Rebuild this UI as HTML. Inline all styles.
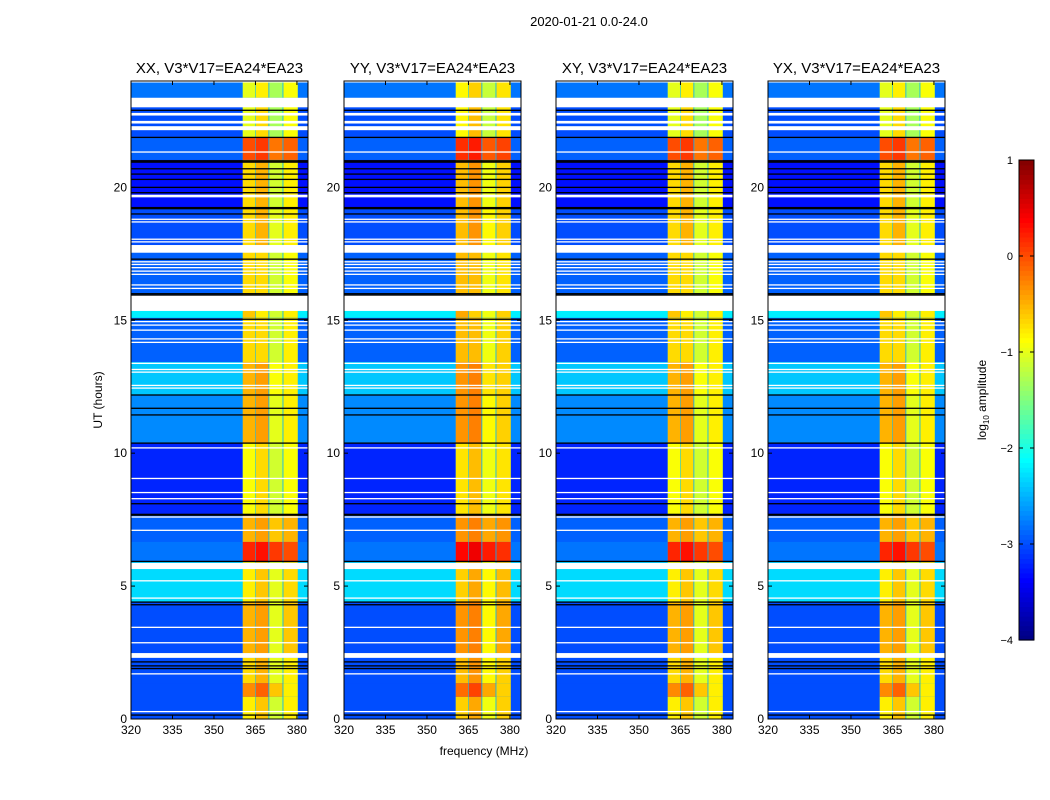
<!DOCTYPE html>
<html><head><meta charset="utf-8"><style>
body{margin:0;background:#fff;font-family:"Liberation Sans",sans-serif}
svg{display:block}
</style></head><body>
<svg id="fig" width="1050" height="800" xmlns="http://www.w3.org/2000/svg">
<text x="589" y="26" font-size="13" text-anchor="middle">2020-01-21 0.0-24.0</text>
<text x="484" y="755" font-size="12" text-anchor="middle">frequency (MHz)</text>
<text transform="translate(102,400) rotate(-90)" font-size="12" text-anchor="middle">UT (hours)</text>
<g id="panels"></g>
<g id="cbar"></g>
<text transform="translate(986,400) rotate(-90)" font-size="12" text-anchor="middle">log<tspan font-size="8" dy="3">10</tspan><tspan dy="-3"> amplitude</tspan></text>
</svg>
<script>
const panelTitles = ["XX, V3*V17=EA24*EA23","YY, V3*V17=EA24*EA23","XY, V3*V17=EA24*EA23","YX, V3*V17=EA24*EA23"];
const panelLeft = [131,344,556,768];
const panelBandOffset = [0,0.15,0,0];
const xTicks = [320,335,350,365,380];
const yTicks = [0,5,10,15,20];
const cbTicks = [1,0,-1,-2,-3,-4];
// sub-band edges (MHz)
const subBands = [[360.4,365.0],[365.2,369.7],[370.0,374.8],[375.1,380.3]];
// segments: [lo hour, hi hour, background level, band1..band4 levels]
const segments = [
[23.37,24.0,-2.8,-1.0,-0.8,-1.3,-0.9],
[21.88,23.37,-3.0,-1.0,-0.7,-1.3,-0.9],
[21.03,21.88,-2.9,0.0,0.1,-0.2,-0.1],
[19.22,21.03,-3.3,-0.7,-0.5,-1.1,-0.8],
[17.83,19.22,-3.0,-0.7,-0.5,-1.0,-0.8],
[15.95,17.83,-2.9,-0.7,-0.7,-1.1,-0.9],
[15.09,15.95,-2.2,-0.6,-0.8,-1.1,-0.8],
[13.43,15.09,-2.9,-0.7,-0.7,-1.1,-0.8],
[12.19,13.43,-2.4,-0.5,-0.4,-0.9,-0.8],
[10.38,12.19,-2.7,-0.5,-0.4,-1.0,-0.8],
[7.67,10.38,-3.2,-0.9,-0.7,-1.1,-0.9],
[6.66,7.67,-2.9,-0.5,-0.4,-0.6,-0.5],
[5.9,6.66,-2.8,0.2,0.3,0.1,0.0],
[4.4,5.9,-2.3,-0.8,-0.6,-1.0,-0.7],
[2.3,4.4,-3.0,-0.5,-0.4,-1.0,-0.6],
[1.35,2.3,-3.0,-0.7,-0.5,-1.0,-0.8],
[0.83,1.35,-3.0,-0.3,-0.1,-0.6,-0.8],
[0.0,0.83,-3.0,-0.8,-0.6,-1.1,-0.8]
];
const flagBlocks = [[23.01,23.37],[22.7,22.8],[22.4,22.5],[22.15,22.3],[17.54,17.83],[15.35,15.95],[5.64,5.87],[2.3,2.48]];
const whiteLines = [23.97,21.33,19.7,19.65,18.8,18.7,18.05,17.95,17.2,17.1,16.98,16.85,16.73,16.33,16.2,14.95,14.82,14.63,14.3,14.17,13.38,13.15,13.05,12.55,12.45,10.2,9.05,8.52,8.29,7.6,7.1,5.2,4.55,3.45,2.87,1.7,0.28];
const blackLines = [22.9,21.88,21.0,20.95,20.7,20.5,20.3,20.0,19.8,19.24,19.2,19.0,17.3,16.0,15.95,15.04,12.19,11.69,11.44,10.38,8.1,7.7,7.67,5.93,4.4,4.3,2.15,2.0,1.9,0.15];

const NS="http://www.w3.org/2000/svg";
const W=177, TOP=81, BOT=719, F0=320, F1=384, H0=0, H1=24;
function el(tag,attrs,parent){const e=document.createElementNS(NS,tag);for(const k in attrs)e.setAttribute(k,attrs[k]);parent.appendChild(e);return e;}
function cl(v){return Math.max(0,Math.min(1,v));}
function jet(v){const t=cl((v+4)/5);const r=cl(1.5-Math.abs(4*t-3)),g=cl(1.5-Math.abs(4*t-2)),b=cl(1.5-Math.abs(4*t-1));return `rgb(${Math.round(r*255)},${Math.round(g*255)},${Math.round(b*255)})`;}
function yS(h){return BOT-(h-H0)/(H1-H0)*(BOT-TOP);}
const panelsG=document.getElementById('panels');
panelLeft.forEach((L,pi)=>{
  const xS=f=>L+(f-F0)/(F1-F0)*W;
  const g=el('g',{},panelsG);
  
  
  segments.forEach(s=>{
    const y1=yS(s[1]),y0=yS(s[0]);
    const r=el('rect',{x:L,y:y1,width:W,height:y0-y1+0.5,fill:jet(s[2])},g);
    
    
    const gap=el('rect',{x:xS(subBands[0][0]),y:y1,width:xS(subBands[3][1])-xS(subBands[0][0]),height:y0-y1+0.5,fill:jet(-2.5)},g);
    
    
    subBands.forEach((b,bi)=>{
      const c=el('rect',{x:xS(b[0]),y:y1,width:xS(b[1])-xS(b[0]),height:y0-y1+0.5,fill:jet(s[3+bi]+panelBandOffset[pi])},g);
      
      
    });
  });
  flagBlocks.forEach(f=>{
    const r=el('rect',{x:L,y:yS(f[1]),width:W,height:yS(f[0])-yS(f[1]),fill:'#fff'},g);
    
    
  });
  whiteLines.forEach(h=>{
    const r=el('rect',{x:L,y:yS(h)-0.6,width:W,height:1.3,fill:'#fff'},g);
    
    
  });
  blackLines.forEach(h=>{
    const r=el('rect',{x:L,y:yS(h)-0.6,width:W,height:1.3,fill:'#000'},g);
    
    
  });
  const fr=el('rect',{x:L,y:TOP,width:W,height:BOT-TOP,fill:'none',stroke:'#000','stroke-width':1},g);
  
  
  const t=el('text',{x:L+W/2,y:TOP-8,'font-size':15,'text-anchor':'middle'},g);
  t.textContent=panelTitles[pi];
  
  
  xTicks.forEach(v=>{
    const x=xS(v);
    el('line',{x1:x,x2:x,y1:BOT,y2:BOT-4,stroke:'#000'},g);
    el('line',{x1:x,x2:x,y1:TOP,y2:TOP+4,stroke:'#000'},g);
    const tl=el('text',{x:x,y:BOT+15,'font-size':12,'text-anchor':'middle'},g);
    tl.textContent=v;
    
    
  });
  yTicks.forEach(v=>{
    const y=yS(v);
    el('line',{x1:L,x2:L+4,y1:y,y2:y,stroke:'#000'},g);
    el('line',{x1:L+W,x2:L+W-4,y1:y,y2:y,stroke:'#000'},g);
    const tl=el('text',{x:L-4,y:y+4,'font-size':12,'text-anchor':'end'},g);
    tl.textContent=v;
    
    
  });
});
// colorbar
const cb=document.getElementById('cbar');
const CX=1019,CW=15,CT=160,CB=640;
const cbY=v=>CB-(v+4)/5*(CB-CT);
for(let i=0;i<100;i++){
  const v0=-4+i*0.05;
  const r=el('rect',{x:CX,y:cbY(v0+0.05),width:CW,height:(CB-CT)/100+0.6,fill:jet(v0+0.025)},cb);
  
  
}
el('rect',{x:CX,y:CT,width:CW,height:CB-CT,fill:'none',stroke:'#000'},cb);
cbTicks.forEach(v=>{
  const y=cbY(v);
  el('line',{x1:CX,x2:CX+4,y1:y,y2:y,stroke:'#000'},cb);
  el('line',{x1:CX+CW,x2:CX+CW-4,y1:y,y2:y,stroke:'#000'},cb);
  const t=el('text',{x:CX-6,y:y+4,'font-size':11,'text-anchor':'end'},cb);
  t.textContent=v<0?'\u2212'+(-v):String(v);
  
  
});
</script>
</body></html>
